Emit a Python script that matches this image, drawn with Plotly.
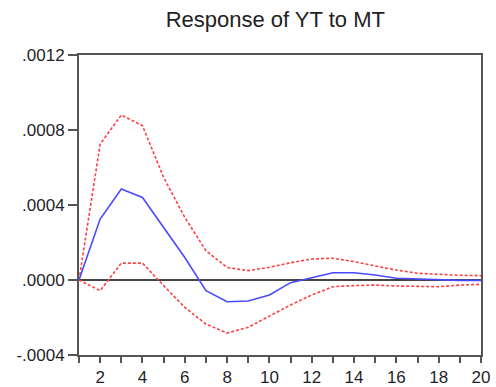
import plotly.graph_objects as go

periods = list(range(1, 21))
response = [0.0, 0.000325, 0.000485, 0.00044, 0.00028, 0.00012, -0.000057, -0.000116, -0.000112, -0.00008,
            -0.000014, 0.000014, 0.000039, 0.000039, 0.000027, 0.000009, 0.000004, 0.0, -0.000002, -0.000002]
upper = [0.0, 0.000725, 0.00088, 0.000823, 0.000547, 0.000334, 0.000156, 0.000067, 0.00005, 0.000068,
         0.000092, 0.000112, 0.000116, 0.000098, 0.000075, 0.000053, 0.000036, 0.00003, 0.000025, 0.000023]
lower = [0.0, -0.000057, 0.00009, 0.00009, -0.00003, -0.000146, -0.000235, -0.000283, -0.000252, -0.000192,
         -0.000133, -0.00008, -0.000036, -0.00003, -0.000027, -0.000032, -0.000036, -0.000036, -0.000027, -0.000023]
ytick_vals = [-0.0004, 0.0, 0.0004, 0.0008, 0.0012]
ytick_text = ["-.0004", ".0000", ".0004", ".0008", ".0012"]
xtick_text = [str(p) if p % 2 == 0 else "" for p in periods]

fig = go.Figure()
fig.add_hline(y=0, line=dict(color="#444444", width=2), layer="below")
fig.add_trace(go.Scatter(x=periods, y=upper, mode="lines",
                         line=dict(color="#ff4040", width=1.6, dash="3px,2px")))
fig.add_trace(go.Scatter(x=periods, y=lower, mode="lines",
                         line=dict(color="#ff4040", width=1.6, dash="3px,2px")))
fig.add_trace(go.Scatter(x=periods, y=response, mode="lines",
                         line=dict(color="#4a4aff", width=1.6)))

fig.update_layout(
    width=496, height=387,
    margin=dict(l=79, r=15, t=55, b=32, autoexpand=False),
    paper_bgcolor="white", plot_bgcolor="white",
    showlegend=False,
    title=dict(text="Response of YT to MT", x=0.555, xanchor="center", y=0.951, yanchor="middle",
               font=dict(family="Liberation Sans, Arial", size=22, color="#222222")),
    font=dict(family="Liberation Sans, Arial", size=17, color="#1f1f2a"),
)
fig.update_xaxes(range=[1, 20], tickvals=periods, ticktext=xtick_text, ticks="outside",
                 ticklen=6, tickwidth=1.5, tickcolor="#555555", showgrid=False, zeroline=False,
                 showline=True, linecolor="#555555", linewidth=2, mirror=True, automargin=False)
fig.update_yaxes(range=[-0.0004, 0.0012], tickvals=ytick_vals, ticktext=ytick_text, ticks="outside",
                 ticklen=9, tickwidth=1.5, tickcolor="#555555", showgrid=False, zeroline=False,
                 showline=True, linecolor="#555555", linewidth=2, mirror=True, automargin=False)

fig.write_html("out.html", config={"displayModeBar": False})
with open("out.html", "r", encoding="utf-8") as f:
    html = f.read()
html = html.replace("<head>", "<head><style>html,body{margin:0;padding:0;overflow:hidden;}</style>", 1)
with open("out.html", "w", encoding="utf-8") as f:
    f.write(html)
